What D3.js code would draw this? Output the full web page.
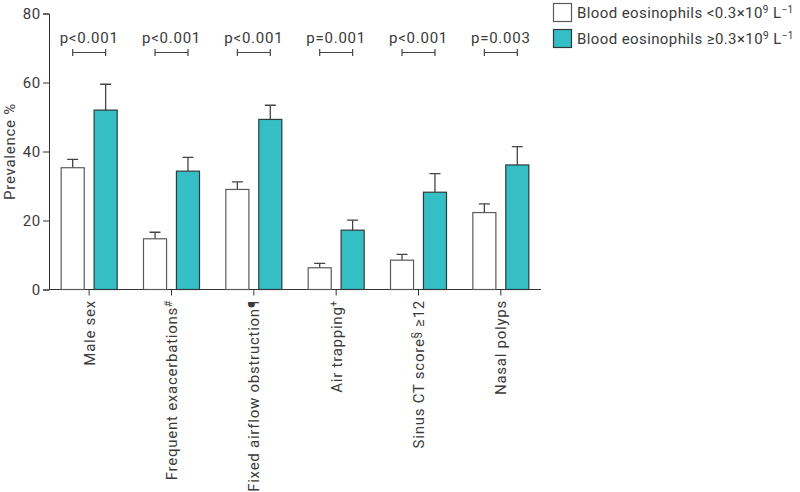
<!DOCTYPE html>
<html><head><meta charset="utf-8">
<script src="https://cdn.jsdelivr.net/npm/d3@7"></script>
<style>
body{margin:0;background:#fff;}
text{font-family:Roboto,"Noto Sans",sans-serif;fill:#3a3a3a;font-weight:400;letter-spacing:0.75px;}
text.leg{letter-spacing:0.4px;}
</style></head>
<body><svg id="chart" width="800" height="492"></svg>
<script>
const categories = ["Male sex","Frequent exacerbations","Fixed airflow obstruction","Air trapping","Sinus CT score","Nasal polyps"];
const labelSup = ["","#","¶","+","§",""];
const lowValues  = [35.3, 14.7, 29.0, 6.3, 8.5, 22.3];
const lowErr     = [2.4, 1.9, 2.2, 1.3, 1.7, 2.5];
const highValues = [52.0, 34.3, 49.3, 17.2, 28.2, 36.1];
const highErr    = [7.5, 4.0, 4.1, 2.9, 5.4, 5.3];
const pValues = ["p<0.001","p<0.001","p<0.001","p=0.001","p<0.001","p=0.003"];
const yTicks = [0,20,40,60,80];

const svg = d3.select("#chart");
const x = d3.scaleBand().domain(categories).range([48,542]);
const y = d3.scaleLinear().domain([0,80]).range([289.5,13.5]);
const groups = ["low","high"];
const xc = d => x(d) + x.bandwidth()/2;
const x1 = d3.scaleBand().domain(groups).range([-28,28]).paddingInner(0.3);
const colors = {low:"#ffffff", high:"#35bec4"};
const strokes = {low:"#5a5a5a", high:"#2d3b3c"};

// axes
const yAxis = svg.append("g").attr("transform","translate(49,0)")
  .call(d3.axisLeft(y).tickValues(yTicks).tickSize(6).tickPadding(2));
yAxis.select(".domain").attr("stroke","#333");
yAxis.selectAll(".tick line").attr("stroke","#333");
yAxis.selectAll(".tick text").style("font-size","15px");

const xAxis = svg.append("g").attr("transform","translate(0,289.5)")
  .call(d3.axisBottom(x).tickSize(6).tickSizeOuter(0).tickFormat(""));
xAxis.select(".domain").attr("stroke","#333").attr("d","M49,0H541");
xAxis.selectAll(".tick line").attr("stroke","#333");

// x labels
categories.forEach((c,i)=>{
  const t = svg.append("text")
    .attr("transform",`translate(${xc(c)+5.5},300) rotate(-90)`)
    .attr("text-anchor","end").style("font-size","15px");
  t.append("tspan").text(c);
  if(labelSup[i]) {
    if(labelSup[i]==="¶") t.append("tspan").text("¶");
    else t.append("tspan").attr("dy",-5).style("font-size","10px").text(labelSup[i]);
  }
  if(i===4){ t.append("tspan").attr("dy",5).text(" ≥12"); }
});

// y label
svg.append("text").attr("transform","translate(15,151.5) rotate(-90)")
  .attr("text-anchor","middle").style("font-size","15px").text("Prevalence %");

// bars
const data = categories.map((c,i)=>({c, vals:[
  {g:"low", v:lowValues[i], e:lowErr[i]},
  {g:"high", v:highValues[i], e:highErr[i]}]}));

const cat = svg.append("g").selectAll("g").data(data).join("g")
  .attr("transform",d=>`translate(${xc(d.c)},0)`);
cat.selectAll(".err").data(d=>d.vals).join("path").attr("class","err")
  .attr("d",d=>{const cx=x1(d.g)+x1.bandwidth()/2; const t=y(d.v+d.e);
    return `M${cx},${y(d.v)}V${t}M${cx-5.5},${t}H${cx+5.5}`;})
  .attr("stroke","#444").attr("stroke-width",1.3).attr("fill","none");
cat.selectAll("rect").data(d=>d.vals).join("rect")
  .attr("x",d=>x1(d.g)).attr("width",x1.bandwidth())
  .attr("y",d=>y(d.v)).attr("height",d=>y(0)-y(d.v))
  .attr("fill",d=>colors[d.g]).attr("stroke",d=>strokes[d.g]).attr("stroke-width",1.2);

// p-value brackets
cat.each(function(d,i){
  const g=d3.select(this);
  const a=x1("low")+x1.bandwidth()/2, b=x1("high")+x1.bandwidth()/2, yy=y(68.7);
  g.append("path").attr("d",`M${a},${yy}H${b}M${a},${yy-3.5}V${yy+3.5}M${b},${yy-3.5}V${yy+3.5}`)
    .attr("stroke","#444").attr("stroke-width",1.2).attr("fill","none");
  g.append("text").attr("x",0).attr("y",y(71.5)).attr("text-anchor","middle")
    .style("font-size","15px").text(pValues[i]);
});

// legend
const legendLabels = ["Blood eosinophils <0.3×10","Blood eosinophils ≥0.3×10"];
const leg = svg.append("g");
groups.forEach((g,i)=>{
  const yy = 3 + i*26;
  leg.append("rect").attr("x",553.5).attr("y",yy+0.5).attr("width",18).attr("height",18)
    .attr("fill",colors[g]).attr("stroke",strokes[g]).attr("stroke-width",1.2);
  const t = leg.append("text").attr("class","leg").attr("x",577).attr("y",yy+15).style("font-size","15px");
  t.append("tspan").text(legendLabels[i]);
  t.append("tspan").attr("dy",-5).style("font-size","10px").text("9");
  t.append("tspan").attr("dy",5).text(" L");
  t.append("tspan").attr("dy",-5).style("font-size","10px").text("−1");
});
</script></body></html>
